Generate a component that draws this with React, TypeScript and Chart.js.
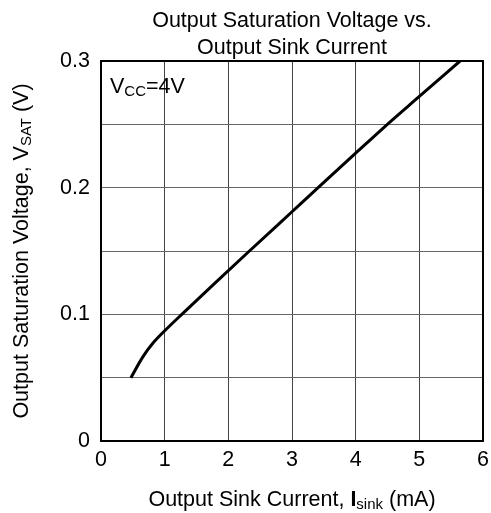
import React, { useEffect, useRef } from "react";
import { Chart, registerables } from "chart.js";

Chart.register(...registerables);

const currentMA = [0.47, 0.66, 0.82, 1.0, 1.29, 1.84, 2.31, 3.0, 3.41, 4.0, 4.42, 5.0, 5.64];
const vsatV = [0.05, 0.0666, 0.0775, 0.087, 0.101, 0.127, 0.149, 0.181, 0.2, 0.2272, 0.2465, 0.272, 0.3];
const titleLines = ["Output Saturation Voltage vs.", "Output Sink Current"];

const FONT = "'Liberation Sans', Arial, sans-serif";
const BIG = 21.5;
const SUB = 15;

type Seg = { t: string; size: number; bold?: boolean; dy?: number };

function segWidth(ctx: CanvasRenderingContext2D, s: Seg) {
  ctx.font = `${s.bold ? "bold " : ""}${s.size}px ${FONT}`;
  return ctx.measureText(s.t).width;
}

function drawRich(ctx: CanvasRenderingContext2D, segs: Seg[], x: number, y: number, align: "center" | "left") {
  let total = 0;
  segs.forEach((s) => (total += segWidth(ctx, s)));
  let cx = align === "center" ? x - total / 2 : x;
  ctx.textAlign = "left";
  ctx.textBaseline = "alphabetic";
  ctx.fillStyle = "#000";
  segs.forEach((s) => {
    const w = segWidth(ctx, s);
    ctx.fillText(s.t, cx, y + (s.dy || 0));
    cx += w;
  });
}

const textPlugin = {
  id: "textPlugin",
  afterDraw(chart: any) {
    const ctx = chart.ctx as CanvasRenderingContext2D;
    const a = chart.chartArea;
    ctx.save();
    ctx.strokeStyle = "#000";
    ctx.lineWidth = 2;
    ctx.strokeRect(a.left, a.top, a.right - a.left, a.bottom - a.top);
    const cx = (a.left + a.right) / 2;
    drawRich(ctx, [{ t: titleLines[0], size: BIG }], cx, 27, "center");
    drawRich(ctx, [{ t: titleLines[1], size: BIG }], cx, 54, "center");
    drawRich(
      ctx,
      [
        { t: "V", size: BIG },
        { t: "CC", size: SUB, dy: 3 },
        { t: "=4V", size: BIG },
      ],
      a.left + 9,
      93,
      "left"
    );
    drawRich(
      ctx,
      [
        { t: "Output Sink Current, ", size: BIG },
        { t: "I", size: BIG, bold: true },
        { t: "sink", size: SUB, dy: 3 },
        { t: " (mA)", size: BIG },
      ],
      cx,
      506,
      "center"
    );
    ctx.save();
    ctx.translate(28, (a.top + a.bottom) / 2);
    ctx.rotate(-Math.PI / 2);
    drawRich(
      ctx,
      [
        { t: "Output Saturation Voltage, V", size: BIG },
        { t: "SAT", size: SUB, dy: 3 },
        { t: " (V)", size: BIG },
      ],
      0,
      0,
      "center"
    );
    ctx.restore();
    ctx.restore();
  },
};

export default function App() {
  const ref = useRef<HTMLCanvasElement>(null);
  useEffect(() => {
    const chart = new Chart(ref.current!, {
      type: "line",
      data: {
        datasets: [
          {
            data: currentMA.map((x, i) => ({ x, y: vsatV[i] })),
            borderColor: "#000",
            borderWidth: 3,
            pointRadius: 0,
            cubicInterpolationMode: "monotone",
            fill: false,
          },
        ],
      },
      options: {
        animation: false,
        responsive: false,
        maintainAspectRatio: false,
        layout: { padding: { left: 0, top: 61, right: 8, bottom: 0 } },
        plugins: { legend: { display: false }, tooltip: { enabled: false }, title: { display: false } },
        scales: {
          x: {
            type: "linear",
            min: 0,
            max: 6,
            ticks: { stepSize: 1, color: "#000", font: { size: BIG, family: FONT }, padding: 6 },
            grid: { color: "#444", lineWidth: 1, drawTicks: false },
            border: { display: true, color: "#000", width: 2 },
            afterFit: (s: any) => {
              s.height = 72;
              s.paddingLeft = 0;
              s.paddingRight = 0;
            },
          },
          y: {
            type: "linear",
            min: 0,
            max: 0.3,
            ticks: {
              stepSize: 0.05,
              color: "#000",
              font: { size: BIG, family: FONT },
              padding: 11,
              callback: (v: any) => {
                const k = Math.round(Number(v) * 100);
                return k % 10 === 0 ? String(k / 100) : "";
              },
            },
            grid: { color: "#666", lineWidth: 1, drawTicks: false },
            border: { display: true, color: "#000", width: 2 },
            afterFit: (s: any) => {
              s.width = 101;
              s.paddingTop = 0;
              s.paddingBottom = 0;
            },
          },
        },
      },
      plugins: [textPlugin],
    } as any);
    return () => chart.destroy();
  }, []);
  return (
    <div style={{ position: "fixed", left: 0, top: 0, width: 491, height: 513, background: "#fff" }}>
      <canvas ref={ref} width={491} height={513} style={{ width: 491, height: 513 }} />
    </div>
  );
}
